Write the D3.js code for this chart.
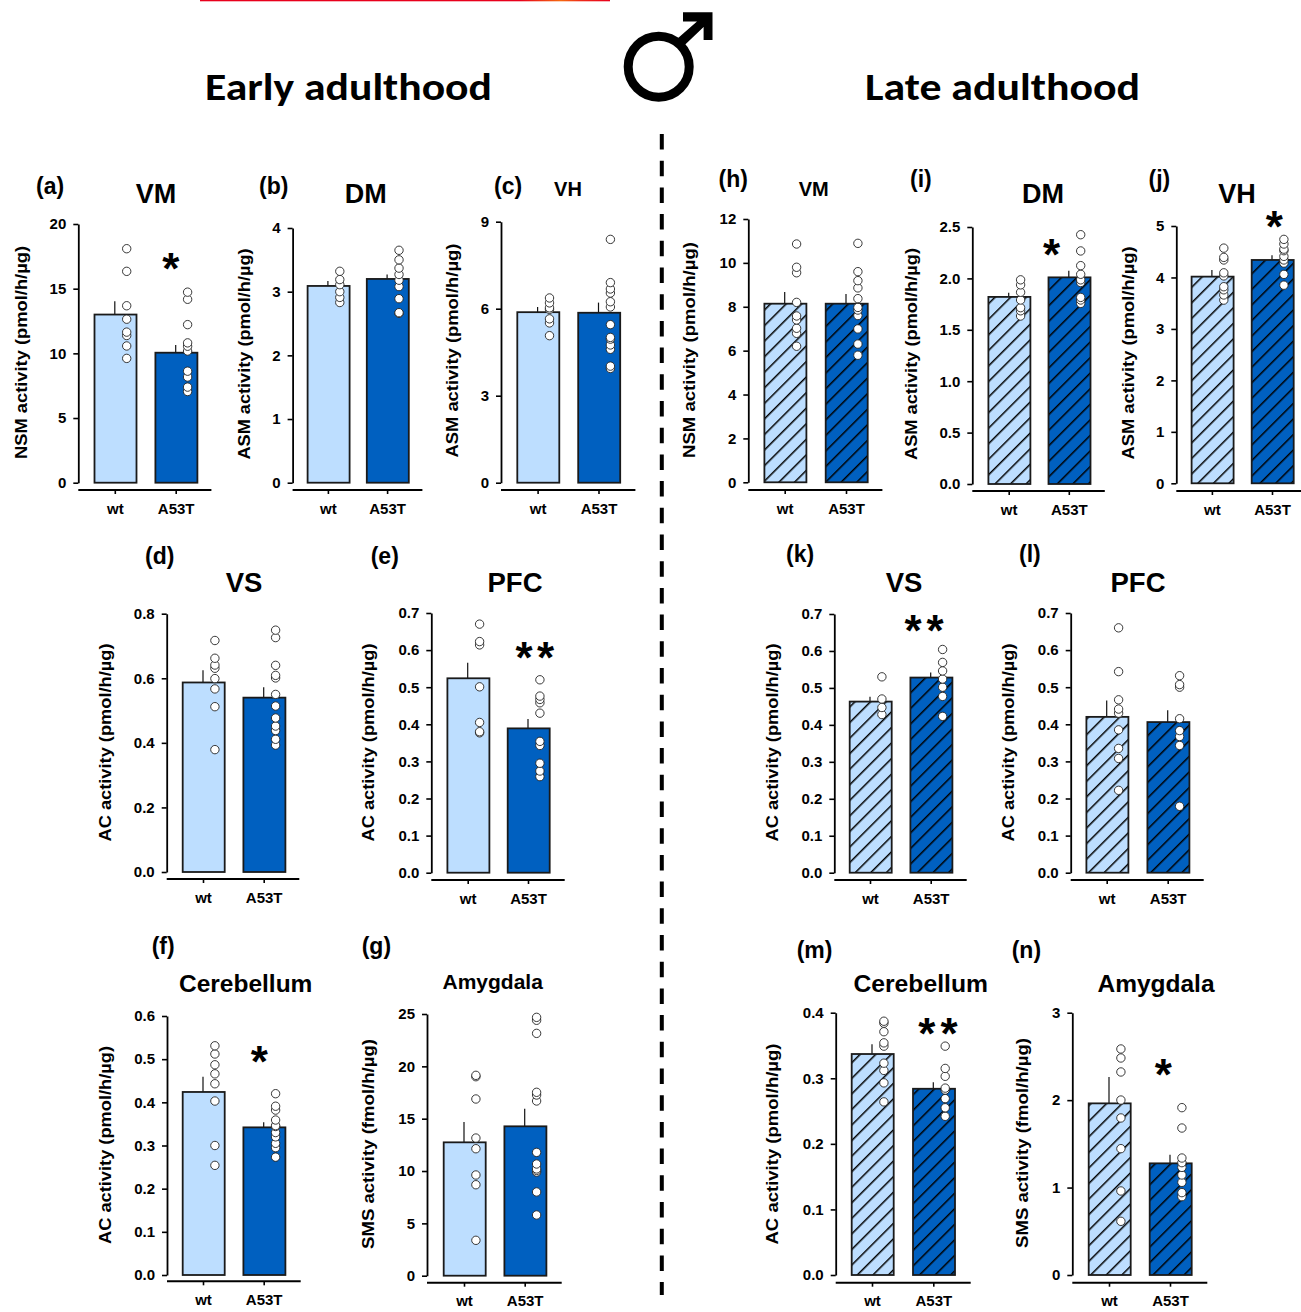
<!DOCTYPE html>
<html><head><meta charset="utf-8">
<script src="https://cdn.jsdelivr.net/npm/d3@7"></script>
<style>
html,body{margin:0;padding:0;background:#fff;overflow:hidden}
svg{display:block}
text{font-family:"Liberation Sans",Arial,sans-serif;font-weight:bold;fill:#000}
</style></head><body><div id="chart"></div>
<script>
// ---------- data ----------
const groups = ["wt", "A53T"];
const ids = ["a","b","c","d","e","f","g","h","i","j","k","l","m","n"];
const regions = ["VM","DM","VH","VS","PFC","Cerebellum","Amygdala","VM","DM","VH","VS","PFC","Cerebellum","Amygdala"];
const yTitles = ["NSM activity (pmol/h/µg)","ASM activity (pmol/h/µg)","ASM activity (pmol/h/µg)","AC activity (pmol/h/µg)","AC activity (pmol/h/µg)","AC activity (pmol/h/µg)","SMS activity (fmol/h/µg)",
                 "NSM activity (pmol/h/µg)","ASM activity (pmol/h/µg)","ASM activity (pmol/h/µg)","AC activity (pmol/h/µg)","AC activity (pmol/h/µg)","AC activity (pmol/h/µg)","SMS activity (fmol/h/µg)"];
const yTicks = [[0,5,10,15,20],[0,1,2,3,4],[0,3,6,9],[0,.2,.4,.6,.8],[0,.1,.2,.3,.4,.5,.6,.7],[0,.1,.2,.3,.4,.5,.6],[0,5,10,15,20,25],
                [0,2,4,6,8,10,12],[0,.5,1,1.5,2,2.5],[0,1,2,3,4,5],[0,.1,.2,.3,.4,.5,.6,.7],[0,.1,.2,.3,.4,.5,.6,.7],[0,.1,.2,.3,.4],[0,1,2,3]];
const wtMeans  = [13.0,3.09,5.88,.587,.524,.424,12.74, 8.14,1.82,4.016,.463,.42,.337,1.963];
const wtTops   = [14.03,3.166,6.06,.625,.566,.459,14.68, 8.67,1.86,4.145,.476,.464,.352,2.265];
const mutMeans = [10.05,3.2,5.86,.54,.389,.342,14.27, 8.14,2.01,4.34,.528,.406,.284,1.277];
const mutTops  = [10.65,3.27,6.21,.572,.414,.354,15.96, 8.58,2.075,4.43,.542,.438,.294,1.376];
const wtPoints = [
 [18.09,16.34,13.68,12.64,11.64,11.38,10.57,9.61],
 [3.32,3.19,3.11,3.0,2.91,2.83],
 [6.37,6.2,6.03,5.98,5.65,5.51,5.07],
 [.717,.662,.641,.631,.599,.567,.512,.379],
 [.670,.623,.614,.501,.405,.380,.377],
 [.531,.512,.487,.466,.443,.403,.300,.254],
 [19.14,19.01,16.88,13.15,12.13,9.62,8.69,3.38],
 [10.86,9.80,9.55,8.2,7.58,7.4,7.02,6.79,6.2],
 [1.986,1.937,1.865,1.79,1.715,1.685,1.634],
 [4.57,4.39,4.34,4.09,4.03,3.82,3.76,3.66,3.56],
 [.530,.470,.447,.428],
 [.660,.542,.466,.441,.430,.385,.335,.308,.222],
 [.387,.384,.371,.354,.349,.323,.312,.293,.264],
 [2.585,2.482,2.322,2.001,1.796,1.445,.961,.614]
];
const mutPoints = [
 [14.73,14.18,12.22,10.81,10.55,10.18,8.62,8.17,7.39,7.05],
 [3.65,3.5,3.37,3.27,3.18,3.08,2.89,2.67,2.66],
 [8.39,6.9,6.68,6.54,6.24,6.06,5.45,5.01,4.95,4.75,4.6,4.02,3.94],
 [.749,.726,.64,.609,.601,.55,.514,.477,.452,.438,.411,.393],
 [.520,.476,.467,.458,.430,.354,.343,.295,.274,.259],
 [.420,.391,.382,.359,.346,.344,.330,.320,.305,.295,.273],
 [24.68,24.4,23.15,17.52,17.26,16.69,11.78,10.67,10.2,10.06,9.9,8.0,5.8],
 [10.89,9.6,9.19,8.86,8.37,7.97,7.85,7.6,6.99,6.3,5.79],
 [2.425,2.267,2.124,2.04,1.986,1.96,1.815,1.79,1.757],
 [4.74,4.65,4.55,4.52,4.41,4.34,4.28,4.06,3.85],
 [.604,.569,.546,.524,.502,.477,.423],
 [.531,.507,.500,.415,.383,.367,.343,.179],
 [.349,.315,.303,.285,.282,.269,.255,.242],
 [1.914,1.681,1.338,1.285,1.231,1.144,1.06,.942,.896]
];
const stars = ["*","","","","**","*","","","*","*","**","","**","*"];
const hatched = [0,0,0,0,0,0,0,1,1,1,1,1,1,1];

// ---------- layout (pixels; not data) ----------
// axisX, yTop, yBottom, xAxisY, xAxisEnd, tick1, tick2
const frames = [
 [78.3,224,482.7,490,211.4,114.8,175.7],
 [292.6,228,482.7,490,422.4,327.9,387.1],
 [501,221.7,482.7,490,635.4,537.6,598.5],
 [166.7,613.7,872,879,299.3,203,263.7],
 [431.3,613,872.7,880,564.7,467.7,528],
 [167,1016,1275,1281.3,300.7,203,263.7],
 [427,1014,1275.7,1282.7,561.7,464,524.7],
 [748.3,219,482.3,490,882.4,784.7,846],
 [972.3,227,484,491,1104.8,1008.7,1068.8],
 [1176.3,226,483.3,491,1301,1211.9,1272],
 [834.3,614,872.7,880,966.7,870,930.7],
 [1070.7,613,872.7,880,1203.7,1106.7,1167.7],
 [835.7,1012.7,1275,1282.7,970.7,872,933.3],
 [1072.3,1012.7,1275,1282.7,1207.3,1109,1170]
];
// label x, label baseline, title cx, title baseline, title size, y-title cx, y-title cy, y-title length
const labels = [
 [36,194,156,203,27,20.7,352.5,213],
 [259,194,365.8,203,27,243.7,354,211],
 [494,194,568,196,20,452,350.6,214],
 [145,564,244,592,27.5,105,742.5,198],
 [370.7,564,515,592,27.5,368,742.5,198],
 [151.7,954,245.7,992.3,24.5,105,1145,198],
 [361.7,954,492.7,989,21,368,1144,210],
 [718.5,187,813.7,196,20,688.6,350,216],
 [910,187,1043,203,27,911.4,354,212],
 [1148.5,187,1237,203,27,1128,353,213],
 [786,562,904,592,27.5,771.7,742.5,198],
 [1019,562,1138,592,27.5,1008,742.5,198],
 [796.7,958,920.7,992,24.7,771.7,1144,201],
 [1011.7,958,1156,992,24.5,1021.7,1143,210]
];
// asterisk centres
const starPos = [[[170.8,260]],[],[],[],[[524,649],[545.5,649]],[[259.3,1052.7]],[],[],[[1051.6,246]],[[1274.4,218.3]],[[913,621.7],[935,621.7]],[],[[926.7,1025],[949,1025]],[[1163.3,1066]]];

const lightBlue = "#bddeff", darkBlue = "#0060c0";
const W = 1301, H = 1312;
const svg = d3.select("#chart").append("svg").attr("width",W).attr("height",H).attr("viewBox",`0 0 ${W} ${H}`);
const defs = svg.append("defs");
[["l",lightBlue],["d",darkBlue]].forEach(([k,c])=>{
  const p = defs.append("pattern").attr("id","hatch-"+k).attr("patternUnits","userSpaceOnUse")
    .attr("width",11).attr("height",11).attr("patternTransform","rotate(45)");
  p.append("rect").attr("width",11).attr("height",11).attr("fill",c);
  p.append("line").attr("x1",0).attr("x2",0).attr("y1",0).attr("y2",11).attr("stroke","#000").attr("stroke-width",3);
});
const grad = defs.append("linearGradient").attr("id","rule");
[[0,"#e8001c"],[.78,"#e8001c"],[.88,"#f56a10"],[.93,"#ee2a1a"],[1,"#e8001c"]].forEach(([o,c])=>grad.append("stop").attr("offset",o).attr("stop-color",c));

// top rule, headings
svg.append("rect").attr("x",200).attr("y",0).attr("width",410).attr("height",1.3).attr("fill","url(#rule)");
svg.selectAll("text.head").data([["Early adulthood",205,287],["Late adulthood",865,275]]).join("text")
  .attr("class","head").attr("x",d=>d[1]).attr("y",100).attr("textLength",d=>d[2]).attr("lengthAdjust","spacingAndGlyphs")
  .style("font-family","Carlito,Lato,'Open Sans',sans-serif").style("font-size","39px").text(d=>d[0]);

// male symbol
const sym = svg.append("g");
sym.append("circle").attr("cx",658.7).attr("cy",66.7).attr("r",30.5).attr("fill","none").attr("stroke","#000").attr("stroke-width",9);
sym.append("path").attr("fill","#000").attr("d","M683 12.3H712.5V40H703.6V27L680 49.5L673.5 42L697 21.5H683Z");

// divider
svg.append("line").attr("x1",661.8).attr("x2",661.8).attr("y1",134).attr("y2",1295)
  .attr("stroke","#000").attr("stroke-width",4).attr("stroke-dasharray","15.5 11.2");

// panels
ids.forEach((id,i)=>{
  const [ax,yT,yB,xY,xEnd,t1,t2] = frames[i];
  const [lx,ly,tx,ty,ts,ytx,yty,ytl] = labels[i];
  const g = svg.append("g").attr("class","panel-"+id);
  const ticks = yTicks[i];
  const y = d3.scaleLinear().domain([0,d3.max(ticks)]).range([yB,yT]);
  const x = d3.scalePoint().domain(groups).range([t1,t2]);
  const halfBar = 21, ptOffset = 11.9;
  const isDec = ticks.some(v=>v%1!==0);
  const rows = groups.map((k,j)=>({k,j,
     mean:(j?mutMeans:wtMeans)[i], top:(j?mutTops:wtTops)[i], pts:(j?mutPoints:wtPoints)[i]}));

  // error bars
  g.selectAll("line.err").data(rows).join("line").attr("class","err")
    .attr("x1",d=>x(d.k)).attr("x2",d=>x(d.k)).attr("y1",d=>y(d.mean)).attr("y2",d=>y(d.top))
    .attr("stroke","#111").attr("stroke-width",1.2);
  // bars
  g.selectAll("rect.bar").data(rows).join("rect").attr("class","bar")
    .attr("x",d=>x(d.k)-halfBar+.7).attr("width",halfBar*2).attr("y",d=>y(d.mean)).attr("height",d=>y(0)-y(d.mean))
    .attr("fill",d=> hatched[i] ? `url(#hatch-${d.j?"d":"l"})` : (d.j?darkBlue:lightBlue))
    .attr("stroke","#1a1a1a").attr("stroke-width",1.8);
  // dots
  rows.forEach(r=>{
    g.selectAll(null).data(r.pts.slice().reverse()).join("circle")
      .attr("cx",x(r.k)+ptOffset).attr("cy",d=>y(d)).attr("r",4.2)
      .attr("fill","#fff").attr("stroke","#222").attr("stroke-width",.9);
  });
  // axes
  const axisY = d3.axisLeft(y).tickValues(ticks).tickSize(5).tickSizeOuter(0).tickPadding(7)
    .tickFormat(isDec ? d3.format(".1f") : d3.format("d"));
  const gy = g.append("g").attr("transform",`translate(${ax},0)`).call(axisY);
  gy.select(".domain").attr("stroke","#000").attr("stroke-width",1.8);
  gy.selectAll(".tick line").attr("stroke","#000").attr("stroke-width",1.6);
  gy.selectAll(".tick text").style("font-family","'Liberation Sans',Arial,sans-serif").style("font-size","15px").style("font-weight","bold").attr("fill","#000");
  const axisX = d3.axisBottom(x).tickSize(4).tickSizeOuter(0).tickPadding(9);
  const gx = g.append("g").attr("transform",`translate(0,${xY})`).call(axisX);
  gx.select(".domain").remove();
  gx.append("line").attr("x1",ax).attr("x2",xEnd).attr("stroke","#000").attr("stroke-width",2);
  gx.selectAll(".tick line").attr("stroke","#000").attr("stroke-width",1.6);
  gx.selectAll(".tick text").style("font-family","'Liberation Sans',Arial,sans-serif").style("font-size","15px").style("font-weight","bold").attr("fill","#000");

  // texts
  g.append("text").attr("x",lx).attr("y",ly).style("font-size","23px").text(`(${id})`);
  g.append("text").attr("x",tx).attr("y",ty).attr("text-anchor","middle").style("font-size",ts+"px").text(regions[i]);
  g.append("text").attr("transform",`translate(${ytx},${yty}) rotate(-90)`).attr("text-anchor","middle")
    .attr("dy","0.36em").attr("textLength",ytl).attr("lengthAdjust","spacingAndGlyphs").style("font-size","16.5px").text(yTitles[i]);
  // significance marks
  starPos[i].forEach((p,s)=>{
    g.append("text").attr("x",p[0]).attr("y",p[1]+24).attr("text-anchor","middle").style("font-size","44px").text(stars[i][s]);
  });
});
</script></body></html>
